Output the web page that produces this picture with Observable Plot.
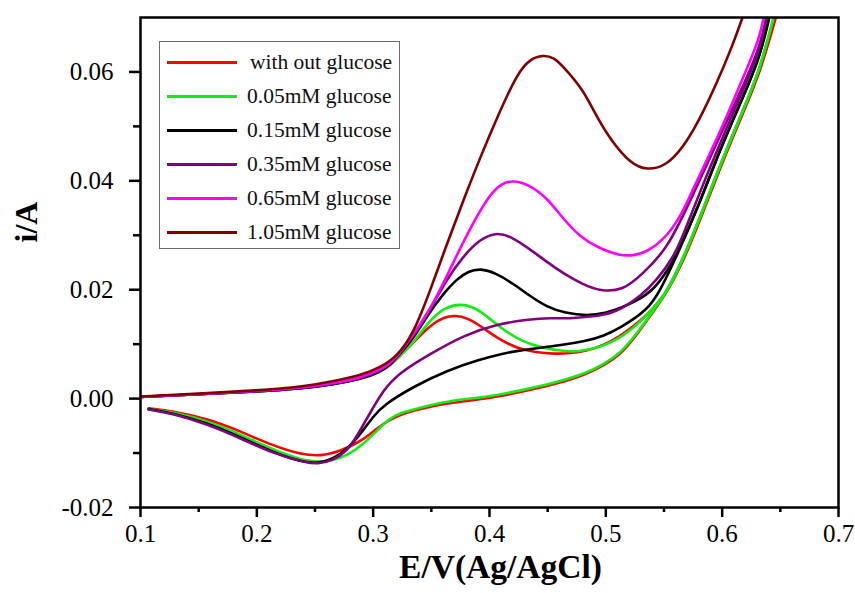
<!DOCTYPE html>
<html><head><meta charset="utf-8">
<script src="https://cdn.jsdelivr.net/npm/d3@7"></script>
<script src="https://cdn.jsdelivr.net/npm/@observablehq/plot@0.6"></script>
<style>
html,body{margin:0;padding:0;background:#fff;}
#wrap{position:relative;width:855px;height:593px;font-family:"Liberation Serif","Tinos","Times New Roman","Nimbus Roman","DejaVu Serif","Noto Serif",serif;}
#legend{position:absolute;left:159px;top:41px;width:241px;height:208px;border:1px solid #6b6b6b;background:#fff;box-sizing:border-box;padding-top:3px}
.row{height:34px;display:flex;align-items:center;font-size:21.5px;color:#111;white-space:nowrap}
.sw{display:inline-block;width:70px;height:0;border-top:3px solid;margin-left:7px;margin-right:10px}
</style></head>
<body><div id="wrap"></div>
<script>
const FONT = '"Liberation Serif","Tinos","Times New Roman","Nimbus Roman","DejaVu Serif","Noto Serif",serif';
// Series names and colours
const seriesNames = ["with out glucose","0.05mM glucose","0.15mM glucose","0.35mM glucose","0.65mM glucose","1.05mM glucose"];
const seriesColors = ["#ff0000","#11ee11","#000000","#800080","#ff00ff","#800000"];

// Axis ticks
const xMajor = [0.1,0.2,0.3,0.4,0.5,0.6,0.7];
const xMinor = [0.15,0.25,0.35,0.45,0.55,0.65];
const yMajor = [-0.02,0.00,0.02,0.04,0.06];
const yMinor = [-0.01,0.01,0.03,0.05];

// [E (V), i (A)] forward (anodic) and reverse scans
const redFwd = [[0.100,0.0003],[0.150,0.0008],[0.200,0.0013],[0.240,0.0019],[0.265,0.0026],[0.290,0.0036],[0.305,0.0048],[0.315,0.0062],[0.322,0.0076],[0.3345,0.0103],[0.349,0.0135],[0.361,0.0150],[0.371,0.0153],[0.381,0.0148],[0.392,0.0134],[0.4067,0.0111],[0.4239,0.0092],[0.440,0.0085],[0.455,0.0082],[0.470,0.0083],[0.484,0.0088],[0.498,0.0098],[0.5124,0.0115],[0.525,0.0135],[0.535,0.0153],[0.5467,0.0180],[0.5527,0.0198],[0.568,0.0263],[0.585,0.0355],[0.600,0.0438],[0.617,0.0525],[0.6326,0.0604],[0.648,0.0715]];
const redRev = [[0.648,0.0715],[0.633,0.0600],[0.617,0.0520],[0.600,0.0433],[0.585,0.0350],[0.568,0.0258],[0.5527,0.0195],[0.5407,0.0160],[0.527,0.0118],[0.5124,0.0080],[0.498,0.0061],[0.484,0.0045],[0.4548,0.0025],[0.4265,0.0012],[0.399,0.0000],[0.3637,-0.0008],[0.338,-0.0020],[0.325,-0.0028],[0.313,-0.0040],[0.3036,-0.0054],[0.2916,-0.0076],[0.2718,-0.0097],[0.2546,-0.0106],[0.2375,-0.0102],[0.2143,-0.0087],[0.186,-0.0060],[0.1576,-0.0037],[0.1283,-0.0023],[0.107,-0.0018]];

const greenFwd = [[0.100,0.0003],[0.150,0.0008],[0.200,0.0013],[0.240,0.0019],[0.265,0.0026],[0.290,0.0036],[0.305,0.0048],[0.315,0.0062],[0.322,0.0076],[0.3345,0.0102],[0.349,0.0145],[0.362,0.0168],[0.375,0.0174],[0.385,0.0169],[0.3947,0.0157],[0.4119,0.0126],[0.428,0.0105],[0.445,0.0093],[0.4694,0.0085],[0.484,0.0089],[0.4978,0.0097],[0.510,0.0109],[0.521,0.0125],[0.532,0.0146],[0.5467,0.0181],[0.5527,0.0199],[0.568,0.0264],[0.585,0.0355],[0.600,0.0438],[0.617,0.0525],[0.6326,0.0604],[0.646,0.0715]];
const greenRev = [[0.646,0.0715],[0.632,0.0600],[0.616,0.0520],[0.599,0.0433],[0.584,0.0350],[0.567,0.0258],[0.5527,0.0196],[0.5407,0.0162],[0.527,0.0120],[0.5124,0.0083],[0.498,0.0063],[0.484,0.0047],[0.4548,0.0028],[0.4265,0.0015],[0.399,0.0003],[0.3637,-0.0004],[0.338,-0.0018],[0.325,-0.0025],[0.3148,-0.0035],[0.3036,-0.0058],[0.2916,-0.0084],[0.278,-0.0104],[0.265,-0.0114],[0.252,-0.0117],[0.2375,-0.0112],[0.2143,-0.0094],[0.186,-0.0066],[0.1576,-0.0041],[0.1283,-0.0025],[0.107,-0.0019]];

const blackFwd = [[0.100,0.0003],[0.150,0.0008],[0.200,0.0013],[0.240,0.0019],[0.265,0.0026],[0.290,0.0036],[0.305,0.0048],[0.315,0.0062],[0.322,0.0080],[0.3345,0.0110],[0.3466,0.0153],[0.360,0.0192],[0.372,0.0220],[0.382,0.0234],[0.392,0.0239],[0.405,0.0231],[0.4205,0.0211],[0.435,0.0188],[0.4497,0.0168],[0.465,0.0157],[0.484,0.0152],[0.500,0.0157],[0.5124,0.0166],[0.527,0.0180],[0.5407,0.0199],[0.553,0.0235],[0.561,0.0265],[0.580,0.0355],[0.598,0.0456],[0.615,0.0540],[0.6326,0.0626],[0.642,0.0715]];
const blackRev = [[0.642,0.0715],[0.632,0.0622],[0.614,0.0535],[0.597,0.0452],[0.579,0.0350],[0.561,0.0262],[0.5467,0.0198],[0.5356,0.0162],[0.5124,0.0130],[0.498,0.0115],[0.484,0.0106],[0.4548,0.0096],[0.4265,0.0089],[0.410,0.0082],[0.392,0.0072],[0.3637,0.0052],[0.3345,0.0022],[0.3088,-0.0012],[0.300,-0.0033],[0.2916,-0.0058],[0.278,-0.0093],[0.265,-0.0112],[0.252,-0.0119],[0.2375,-0.0116],[0.2143,-0.0099],[0.186,-0.0071],[0.1576,-0.0045],[0.1283,-0.0027],[0.107,-0.0019]];

const purpleFwd = [[0.100,0.0003],[0.150,0.0008],[0.200,0.0013],[0.240,0.0019],[0.265,0.0026],[0.290,0.0037],[0.305,0.0050],[0.315,0.0064],[0.322,0.0080],[0.3345,0.0115],[0.349,0.0163],[0.362,0.0215],[0.3775,0.0262],[0.392,0.0293],[0.405,0.0305],[0.418,0.0299],[0.435,0.0274],[0.450,0.0250],[0.4634,0.0230],[0.480,0.0210],[0.4952,0.0197],[0.515,0.0199],[0.530,0.0226],[0.553,0.0274],[0.575,0.0375],[0.600,0.0491],[0.617,0.0570],[0.6326,0.0645],[0.6395,0.0715]];
const purpleRev = [[0.6395,0.0715],[0.6326,0.0640],[0.617,0.0562],[0.600,0.0478],[0.580,0.0375],[0.565,0.0292],[0.558,0.0260],[0.544,0.0218],[0.5296,0.0188],[0.515,0.0167],[0.501,0.0153],[0.470,0.0147],[0.452,0.0148],[0.435,0.0146],[0.4067,0.0137],[0.3775,0.0116],[0.349,0.0082],[0.3208,0.0045],[0.3088,0.0015],[0.2976,-0.0025],[0.2864,-0.0068],[0.2778,-0.0096],[0.265,-0.0114],[0.252,-0.0120],[0.2435,-0.0118],[0.2143,-0.0101],[0.186,-0.0073],[0.1576,-0.0047],[0.1283,-0.0028],[0.107,-0.0020]];

const magentaFwd = [[0.100,0.0003],[0.150,0.0008],[0.200,0.0014],[0.240,0.0020],[0.265,0.0028],[0.290,0.0039],[0.305,0.0052],[0.315,0.0066],[0.3208,0.0078],[0.3345,0.0117],[0.349,0.0165],[0.3577,0.0200],[0.370,0.0255],[0.3835,0.0314],[0.4007,0.0377],[0.411,0.0396],[0.4205,0.0401],[0.435,0.0392],[0.4497,0.0368],[0.4634,0.0330],[0.478,0.0297],[0.4926,0.0278],[0.512,0.0262],[0.525,0.0263],[0.5356,0.0270],[0.550,0.0292],[0.564,0.0333],[0.575,0.0385],[0.590,0.0452],[0.604,0.0518],[0.618,0.0590],[0.6326,0.0663],[0.637,0.0715]];

const brownFwd = [[0.100,0.0004],[0.150,0.0009],[0.200,0.0015],[0.240,0.0022],[0.263,0.0031],[0.290,0.0043],[0.306,0.0057],[0.3208,0.0078],[0.3345,0.0119],[0.349,0.0198],[0.363,0.0282],[0.3775,0.0364],[0.392,0.0443],[0.4067,0.0517],[0.4239,0.0598],[0.435,0.0624],[0.446,0.0631],[0.455,0.0627],[0.4634,0.0610],[0.4806,0.0567],[0.490,0.0526],[0.504,0.0475],[0.521,0.0432],[0.5356,0.0419],[0.552,0.0428],[0.566,0.0460],[0.580,0.0510],[0.595,0.0578],[0.608,0.0643],[0.620,0.0715]];

const scans = [
  [seriesNames[0], "f", redFwd], [seriesNames[0], "r", redRev],
  [seriesNames[1], "f", greenFwd], [seriesNames[1], "r", greenRev],
  [seriesNames[2], "f", blackFwd], [seriesNames[2], "r", blackRev],
  [seriesNames[3], "f", purpleFwd], [seriesNames[3], "r", purpleRev],
  [seriesNames[4], "f", magentaFwd],
  [seriesNames[5], "f", brownFwd]
];
const rows = scans.flatMap(([name, b, arr]) => arr.map(([E, I]) => ({E, I, name, g: name + b})));

const chart = Plot.plot({
  width: 855, height: 593,
  marginLeft: 140, marginRight: 17, marginTop: 17, marginBottom: 86,
  style: {fontFamily: FONT, fontSize: "25px", color: "#000", background: "#fff"},
  x: {domain: [0.1, 0.7], label: null},
  y: {domain: [-0.02, 0.07], label: null},
  color: {domain: seriesNames, range: seriesColors},
  marks: [
    Plot.line(rows, {x: "E", y: "I", z: "g", stroke: "name", strokeWidth: 2.6, curve: "basis", clip: true}),
    Plot.frame({stroke: "#000", strokeWidth: 2.5}),
    Plot.axisX(xMajor, {tickSize: 10, tickPadding: 7, strokeWidth: 2.5, tickFormat: d => d.toFixed(1), fontSize: 25, label: null}),
    Plot.axisX(xMinor, {tickSize: 5, strokeWidth: 2.5, tickFormat: () => "", label: null}),
    Plot.axisY(yMajor, {tickSize: 11, tickPadding: 16, strokeWidth: 2.5, tickFormat: d => d.toFixed(2), fontSize: 25, label: null}),
    Plot.axisY(yMinor, {tickSize: 7, strokeWidth: 2.5, tickFormat: () => "", label: null}),
    Plot.text(["E/V(Ag/AgCl)"], {frameAnchor: "bottom", dx: 11, dy: 70, fontSize: 33.5, fontWeight: "bold", fill: "#000"}),
    Plot.text(["i/A"], {frameAnchor: "left", rotate: -90, dx: -114, dy: -20, fontSize: 32, fontWeight: "bold", fill: "#000"})
  ]
});
const wrap = document.getElementById("wrap");
wrap.appendChild(chart);

const legend = document.createElement("div");
legend.id = "legend";
seriesNames.forEach((n, i) => {
  const row = document.createElement("div");
  row.className = "row";
  const sw = document.createElement("span");
  sw.className = "sw";
  sw.style.borderTopColor = seriesColors[i];
  const t = document.createElement("span");
  t.textContent = n;
  if (i === 0) t.style.marginLeft = "3px";
  row.appendChild(sw); row.appendChild(t);
  legend.appendChild(row);
});
wrap.appendChild(legend);
</script>
</body></html>
